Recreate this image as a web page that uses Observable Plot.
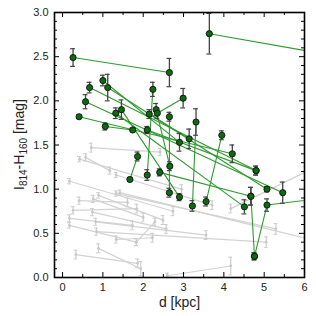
<!DOCTYPE html>
<html><head><meta charset="utf-8">
<script src="https://cdn.jsdelivr.net/npm/d3@7"></script>
<script src="https://cdn.jsdelivr.net/npm/@observablehq/plot@0.6"></script>
<style>body{margin:0;background:#fff}</style>
</head><body><div id="chart"></div>
<script>
// Green objects (detected pairs); the 7.0 kpc points continue beyond the axis
const greenId = [1,1, 2,2, 3,3, 4,4, 5,5, 6,6, 7,7, 8,8, 9,9, 10,10,10, 11,11, 12,12, 13,13, 14,14, 15,15, 16,16, 17,17, 18,18, 19,19, 20,20, 21,21, 22,22];
const greenD  = [0.26,2.65, 3.64,7.0, 0.67,4.80, 0.41,4.21, 1.06,1.74, 0.57,5.46, 1.12,5.07, 1.32,4.51, 2.41,4.67, 4.76,5.07,7.0, 1.46,2.90, 1.00,2.90, 1.67,1.86, 2.32,2.66, 2.99,2.35, 2.65,2.65, 3.31,3.22, 3.95,3.56, 2.24,2.10, 2.15,3.14, 2.10,4.80, 4.67,4.76];
const greenC  = [2.49,2.32, 2.76,2.49, 2.15,1.21, 1.82,1.40, 1.71,1.67, 1.99,0.96, 2.15,1.00, 1.86,0.80, 1.19,0.92, 0.24,0.82,0.93, 1.90,0.91, 2.23,1.53, 1.11,1.37, 1.90,1.26, 2.03,1.86, 1.82,0.96, 1.76,0.81, 1.61,0.86, 2.13,1.16, 1.85,1.57, 1.67,1.21, 0.92,0.24];
const greenE  = [0.10,0.16, 0.23,0, 0.06,0.05, 0.02,0.10, 0.04,0.02, 0.08,0.12, 0.15,0.03, 0.06,0.08, 0.04,0.10, 0.04,0.07,0, 0.11,0.04, 0.06,0.10, 0.02,0.05, 0.07,0.05, 0.11,0.06, 0.05,0.05, 0.15,0.06, 0.05,0.05, 0.08,0.06, 0.05,0.11, 0.04,0.05, 0.10,0.04];

// Gray objects
const grayId = [1,1, 2,2, 3,3, 4,4, 5,5, 6,6, 7,7, 8,8, 9,9, 10,10, 11,11, 12,12, 13,13, 14,14, 15,15, 16,16, 17,17, 18,18, 19,19, 20,20, 21,21, 22,22];
const grayD  = [0.71,2.42, 0.42,2.95, 0.57,1.17, 1.33,3.71, 0.17,2.74, 0.41,1.61, 0.26,1.84, 0.89,2.49, 0.76,2.00, 1.33,5.29, 1.42,6.5, 0.74,2.57, 0.17,1.73, 0.17,1.83, 0.82,3.56, 0.84,5.05, 0.33,1.86, 0.89,1.94, 1.33,2.23, 1.83,2.29, 2.60,4.17, 4.17,6.5];
const grayC  = [1.47,1.42, 1.34,1.00, 1.36,1.21, 1.16,0.82, 1.09,0.75, 0.87,0.85, 0.76,0.78, 0.93,0.65, 0.89,0.68, 0.95,0.55, 0.96,0.39, 0.74,0.55, 0.67,0.59, 0.59,0.40, 0.63,0.48, 0.52,0.40, 0.26,0.16, 0.33,0.10, 0.43,0.45, 0.40,0.63, 0.02,0.13, 0.78,1.30];
const grayE  = [0.05,0.04, 0.03,0.05, 0.04,0.04, 0.03,0.05, 0.03,0.05, 0.04,0.05, 0.04,0.05, 0.03,0.05, 0.04,0.05, 0.03,0.06, 0.03,0, 0.04,0.05, 0.04,0.05, 0.03,0.04, 0.04,0.05, 0.04,0.06, 0.05,0.05, 0.05,0.08, 0.04,0.05, 0.04,0.04, 0.03,0.10, 0.05,0];

const xMajor = [0,1,2,3,4,5,6];
const xMinor = [0.5,1.5,2.5,3.5,4.5,5.5];
const yMajor = [0,0.5,1,1.5,2,2.5,3];
const yMinor = d3.range(1,30).map(i=>i/10).filter(v=>Math.abs(v*2-Math.round(v*2))>1e-9);

const green = greenId.map((id,i)=>({id, d:greenD[i], c:greenC[i], e:greenE[i]}));
const gray = grayId.map((id,i)=>({id, d:grayD[i], c:grayC[i], e:grayE[i]}));
const gE = green.filter(r=>r.e>0), yE = gray.filter(r=>r.e>0);

const mL=54, mR=12, mT=12, mB=39, W=316, H=316;
const iW = W-mL-mR, iH = H-mT-mB;
const cap = 0.06;
const FONT = "'Liberation Sans', Arial, Helvetica, sans-serif";

const chart = Plot.plot({
  width: W, height: H,
  marginLeft: mL, marginRight: mR, marginTop: mT, marginBottom: mB,
  style: {fontFamily: FONT, fontSize: "11px", background: "#fff", color: "#222"},
  x: {domain: [-0.2, 6]},
  y: {domain: [0, 3]},
  marks: [
    Plot.line(gray, {x:"d", y:"c", z:"id", stroke:"#d2d2d2", strokeWidth:1.2, clip:true}),
    Plot.ruleX(yE, {x:"d", y1:r=>r.c-r.e, y2:r=>r.c+r.e, stroke:"#cdcdcd", strokeWidth:1.2, clip:true}),
    Plot.ruleY(yE, {y:r=>r.c+r.e, x1:r=>r.d-cap*0.8, x2:r=>r.d+cap*0.8, stroke:"#cdcdcd", clip:true}),
    Plot.ruleY(yE, {y:r=>r.c-r.e, x1:r=>r.d-cap*0.8, x2:r=>r.d+cap*0.8, stroke:"#cdcdcd", clip:true}),
    Plot.dot(gray, {x:"d", y:"c", r:1.4, fill:"#c8c8c8", clip:true}),
    Plot.line(green, {x:"d", y:"c", z:"id", stroke:"#2e9a2e", strokeWidth:1.1, clip:true}),
    Plot.ruleX(gE, {x:"d", y1:r=>r.c-r.e, y2:r=>r.c+r.e, stroke:"#444", strokeWidth:1.3, clip:true}),
    Plot.ruleY(gE, {y:r=>r.c+r.e, x1:r=>r.d-cap, x2:r=>r.d+cap, stroke:"#444", strokeWidth:1.2, clip:true}),
    Plot.ruleY(gE, {y:r=>r.c-r.e, x1:r=>r.d-cap, x2:r=>r.d+cap, stroke:"#444", strokeWidth:1.2, clip:true}),
    Plot.dot(green, {x:"d", y:"c", r:3.1, fill:"#0c6b0c", stroke:"#111", strokeWidth:0.9, clip:true}),
    // inward ticks on all four sides
    Plot.tickX(xMajor, {x:d=>d, insetTop:iH-5, stroke:"#000"}),
    Plot.tickX(xMajor, {x:d=>d, insetBottom:iH-5, stroke:"#000"}),
    Plot.tickX(xMinor, {x:d=>d, insetTop:iH-3, stroke:"#000"}),
    Plot.tickX(xMinor, {x:d=>d, insetBottom:iH-3, stroke:"#000"}),
    Plot.tickY(yMajor, {y:d=>d, insetRight:iW-5, stroke:"#000"}),
    Plot.tickY(yMajor, {y:d=>d, insetLeft:iW-5, stroke:"#000"}),
    Plot.tickY(yMinor, {y:d=>d, insetRight:iW-3, stroke:"#000"}),
    Plot.tickY(yMinor, {y:d=>d, insetLeft:iW-3, stroke:"#000"}),
    Plot.frame({stroke:"#000", strokeWidth:1.6}),
    Plot.axisX({ticks:xMajor, tickSize:0, tickPadding:6, label:null, tickFormat:d3.format("d"), fontSize:11}),
    Plot.axisY({ticks:yMajor, tickSize:0, tickPadding:6, label:null, tickFormat:d3.format(".1f"), fontSize:11}),
    Plot.text(["d [kpc]"], {text:d=>d, frameAnchor:"bottom", dy:29, fontSize:14, fill:"#222"})
  ]
});
document.getElementById("chart").appendChild(chart);

// y-axis label with subscripts
const t = d3.select(chart).append("text")
  .attr("transform", `translate(24,${mT+iH/2}) rotate(-90)`)
  .attr("text-anchor","middle").attr("font-size",14).attr("font-family",FONT).attr("fill","#222");
t.append("tspan").text("I");
t.append("tspan").attr("font-size",10).attr("dy",3).text("814");
t.append("tspan").attr("dy",-3).text("-H");
t.append("tspan").attr("font-size",10).attr("dy",3).text("160");
t.append("tspan").attr("dy",-3).text(" [mag]");
</script>
</body></html>
